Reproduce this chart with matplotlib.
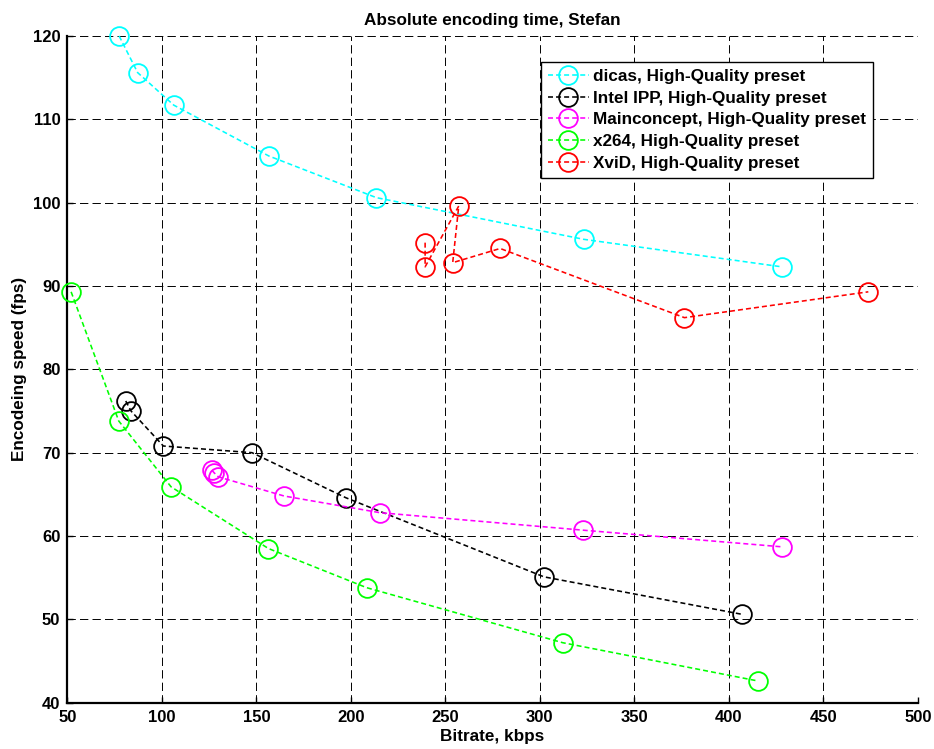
import matplotlib
matplotlib.use("Agg")
import matplotlib.pyplot as plt

plt.rcParams["font.family"] = ["Liberation Sans", "DejaVu Sans"]
plt.rcParams["font.weight"] = "bold"
plt.rcParams["lines.scale_dashes"] = False

# values
dicas_x = [77.4, 87.2, 106.3, 156.6, 213.5, 323.2, 428.0]
dicas_y = [120.0, 115.6, 111.7, 105.6, 100.6, 95.6, 92.3]

ipp_x = [80.9, 83.7, 100.8, 147.7, 197.3, 302.2, 407.1]
ipp_y = [76.2, 75.0, 70.8, 70.0, 64.6, 55.1, 50.6]

mc_x = [126.5, 127.6, 129.9, 164.7, 215.4, 323.0, 428.3]
mc_y = [67.9, 67.6, 67.1, 64.8, 62.8, 60.7, 58.7]

x264_x = [52.0, 77.2, 104.9, 156.4, 208.4, 312.1, 415.6]
x264_y = [89.3, 73.8, 65.9, 58.5, 53.8, 47.2, 42.6]

xvid_x = [239.3, 239.3, 257.1, 253.9, 279.0, 376.5, 473.8]
xvid_y = [95.2, 92.3, 99.6, 92.8, 94.5, 86.2, 89.3]

series = [
    ("dicas, High-Quality preset", dicas_x, dicas_y, "#00ffff"),
    ("Intel IPP, High-Quality preset", ipp_x, ipp_y, "#000000"),
    ("Mainconcept, High-Quality preset", mc_x, mc_y, "#ff00ff"),
    ("x264, High-Quality preset", x264_x, x264_y, "#00ff00"),
    ("XviD, High-Quality preset", xvid_x, xvid_y, "#ff0000"),
]

fig = plt.figure(figsize=(9.34, 7.49), dpi=100)
ax = fig.add_axes([0.0721, 0.0618, 0.9106, 0.8902])

for name, xs, ys, col in series:
    ax.plot(xs, ys, color=col, linestyle=(0, (3.6, 2.2)), linewidth=1.15,
            marker="o", markersize=13.5, markerfacecolor="none",
            markeredgecolor=col, markeredgewidth=1.3, label=name,
            clip_on=False, zorder=3)

ax.set_xlim(50, 500)
ax.set_ylim(40, 120)
ax.set_xticks(range(50, 501, 50))
ax.set_yticks(range(40, 121, 10))
ax.grid(True, color="black", linestyle=(0, (6, 3)), linewidth=0.7)
ax.spines["top"].set_visible(False)
ax.spines["right"].set_visible(False)
ax.spines["left"].set_linewidth(1.6)
ax.spines["bottom"].set_linewidth(1.6)
ax.tick_params(direction="in", length=4, width=1, labelsize=12, pad=5)
for lab in ax.get_xticklabels() + ax.get_yticklabels():
    lab.set_fontweight("bold")

ax.set_title("Absolute encoding time, Stefan", fontsize=12.3, fontweight="bold", pad=8)
ax.set_xlabel("Bitrate, kbps", fontsize=12.3, fontweight="bold", labelpad=3)
ax.set_ylabel("Encodeing speed (fps)", fontsize=12.3, fontweight="bold", labelpad=4)

leg = ax.legend(loc="upper left", bbox_to_anchor=(0.557, 0.961),
                fontsize=12.3, frameon=True, fancybox=False, borderpad=0.4,
                labelspacing=0.4, handlelength=2.4, handletextpad=0.25,
                borderaxespad=0)
leg.get_frame().set_edgecolor("black")
leg.get_frame().set_linewidth(1.0)
leg.get_frame().set_alpha(1)
for t in leg.get_texts():
    t.set_fontweight("bold")

fig.savefig("out.png", dpi=100)
